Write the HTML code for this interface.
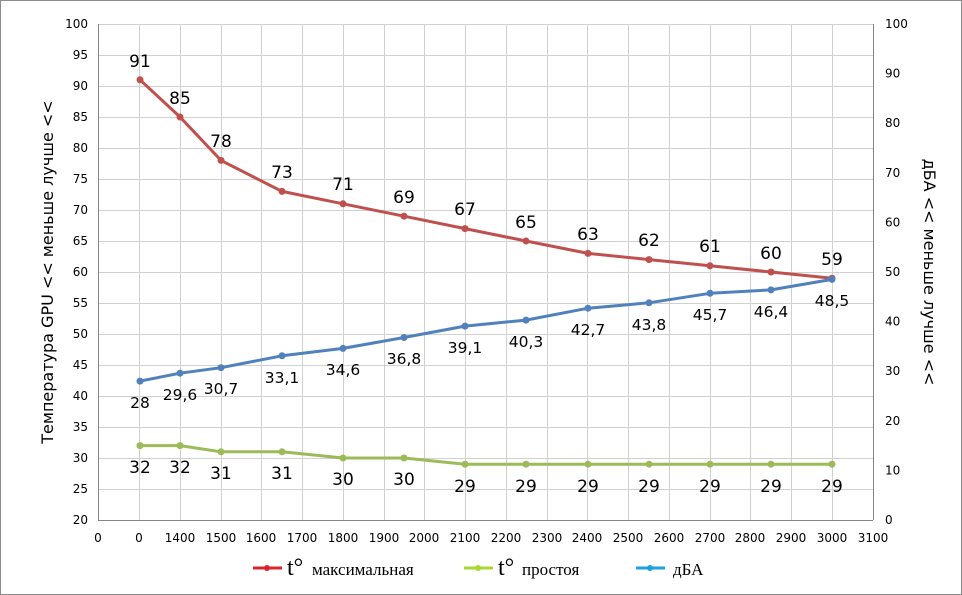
<!DOCTYPE html>
<html><head><meta charset="utf-8"><style>
html,body{margin:0;padding:0;background:#fff}
svg{display:block}
text{font-family:"DejaVu Sans","Liberation Sans",sans-serif}
text.s{font-family:"Liberation Serif",serif}
</style></head><body>
<svg width="962" height="595" viewBox="0 0 962 595" xmlns="http://www.w3.org/2000/svg">
<rect x="0.5" y="0.5" width="961" height="594" fill="#fff" stroke="#8c8c8c"/>
<g stroke="#d0d0d0" stroke-width="1">
<line x1="98" y1="24.5" x2="873" y2="24.5"/><line x1="98" y1="55.5" x2="873" y2="55.5"/><line x1="98" y1="86.5" x2="873" y2="86.5"/><line x1="98" y1="117.5" x2="873" y2="117.5"/><line x1="98" y1="148.5" x2="873" y2="148.5"/><line x1="98" y1="179.5" x2="873" y2="179.5"/><line x1="98" y1="210.5" x2="873" y2="210.5"/><line x1="98" y1="241.5" x2="873" y2="241.5"/><line x1="98" y1="272.5" x2="873" y2="272.5"/><line x1="98" y1="303.5" x2="873" y2="303.5"/><line x1="98" y1="334.5" x2="873" y2="334.5"/><line x1="98" y1="365.5" x2="873" y2="365.5"/><line x1="98" y1="396.5" x2="873" y2="396.5"/><line x1="98" y1="427.5" x2="873" y2="427.5"/><line x1="98" y1="458.5" x2="873" y2="458.5"/><line x1="98" y1="489.5" x2="873" y2="489.5"/>
<line x1="139.5" y1="24" x2="139.5" y2="520"/><line x1="180.5" y1="24" x2="180.5" y2="520"/><line x1="221.5" y1="24" x2="221.5" y2="520"/><line x1="261.5" y1="24" x2="261.5" y2="520"/><line x1="302.5" y1="24" x2="302.5" y2="520"/><line x1="343.5" y1="24" x2="343.5" y2="520"/><line x1="384.5" y1="24" x2="384.5" y2="520"/><line x1="424.5" y1="24" x2="424.5" y2="520"/><line x1="465.5" y1="24" x2="465.5" y2="520"/><line x1="506.5" y1="24" x2="506.5" y2="520"/><line x1="547.5" y1="24" x2="547.5" y2="520"/><line x1="587.5" y1="24" x2="587.5" y2="520"/><line x1="628.5" y1="24" x2="628.5" y2="520"/><line x1="669.5" y1="24" x2="669.5" y2="520"/><line x1="710.5" y1="24" x2="710.5" y2="520"/><line x1="750.5" y1="24" x2="750.5" y2="520"/><line x1="791.5" y1="24" x2="791.5" y2="520"/><line x1="832.5" y1="24" x2="832.5" y2="520"/>
</g>
<g stroke="#868686" stroke-width="1">
<line x1="98.5" y1="24" x2="98.5" y2="520"/><line x1="873.5" y1="24" x2="873.5" y2="520"/><line x1="98" y1="520.5" x2="873" y2="520.5"/>
</g>
<g font-size="12" fill="#000" text-anchor="end">
<text x="88" y="28">100</text><text x="88" y="59">95</text><text x="88" y="90">90</text><text x="88" y="121">85</text><text x="88" y="152">80</text><text x="88" y="183">75</text><text x="88" y="214">70</text><text x="88" y="245">65</text><text x="88" y="276">60</text><text x="88" y="307">55</text><text x="88" y="338">50</text><text x="88" y="369">45</text><text x="88" y="400">40</text><text x="88" y="431">35</text><text x="88" y="462">30</text><text x="88" y="493">25</text><text x="88" y="524">20</text>
</g>
<g font-size="12" fill="#000">
<text x="885" y="28">100</text><text x="885" y="77.6">90</text><text x="885" y="127.2">80</text><text x="885" y="176.8">70</text><text x="885" y="226.4">60</text><text x="885" y="276">50</text><text x="885" y="325.6">40</text><text x="885" y="375.2">30</text><text x="885" y="424.8">20</text><text x="885" y="474.4">10</text><text x="885" y="524">0</text>
</g>
<g font-size="12" fill="#000" text-anchor="middle">
<text x="98" y="542">0</text><text x="139" y="542">0</text><text x="180" y="542">1400</text><text x="221" y="542">1500</text><text x="261" y="542">1600</text><text x="302" y="542">1700</text><text x="343" y="542">1800</text><text x="384" y="542">1900</text><text x="424" y="542">2000</text><text x="465" y="542">2100</text><text x="506" y="542">2200</text><text x="547" y="542">2300</text><text x="587" y="542">2400</text><text x="628" y="542">2500</text><text x="669" y="542">2600</text><text x="710" y="542">2700</text><text x="750" y="542">2800</text><text x="791" y="542">2900</text><text x="832" y="542">3000</text><text x="873" y="542">3100</text>
</g>
<text transform="translate(53,272) rotate(-90)" font-size="16" text-anchor="middle">Температура GPU &lt;&lt; меньше лучше  &lt;&lt;</text>
<text transform="translate(924,272) rotate(90)" font-size="16" text-anchor="middle">дБА &lt;&lt;  меньше лучше &lt;&lt;</text>
<polyline fill="none" stroke="#c0504d" stroke-width="3" stroke-linejoin="round" points="140,79.8 180,117 221,160.4 282,191.4 343,203.8 404,216.2 465,228.6 526,241 588,253.4 649,259.6 710,265.8 771,272 832,278.2"/>
<polyline fill="none" stroke="#9bbb59" stroke-width="3" stroke-linejoin="round" points="140,445.6 180,445.6 221,451.8 282,451.8 343,458 404,458 465,464.2 526,464.2 588,464.2 649,464.2 710,464.2 771,464.2 832,464.2"/>
<polyline fill="none" stroke="#4f81bd" stroke-width="3" stroke-linejoin="round" points="140,381.1 180,373.2 221,367.7 282,355.8 343,348.4 404,337.5 465,326.1 526,320.1 588,308.2 649,302.8 710,293.3 771,289.9 832,279.4"/>
<g fill="#c0504d"><circle cx="140" cy="79.8" r="3.5"/><circle cx="180" cy="117" r="3.5"/><circle cx="221" cy="160.4" r="3.5"/><circle cx="282" cy="191.4" r="3.5"/><circle cx="343" cy="203.8" r="3.5"/><circle cx="404" cy="216.2" r="3.5"/><circle cx="465" cy="228.6" r="3.5"/><circle cx="526" cy="241" r="3.5"/><circle cx="588" cy="253.4" r="3.5"/><circle cx="649" cy="259.6" r="3.5"/><circle cx="710" cy="265.8" r="3.5"/><circle cx="771" cy="272" r="3.5"/><circle cx="832" cy="278.2" r="3.5"/></g>
<g fill="#9bbb59"><circle cx="140" cy="445.6" r="3.5"/><circle cx="180" cy="445.6" r="3.5"/><circle cx="221" cy="451.8" r="3.5"/><circle cx="282" cy="451.8" r="3.5"/><circle cx="343" cy="458" r="3.5"/><circle cx="404" cy="458" r="3.5"/><circle cx="465" cy="464.2" r="3.5"/><circle cx="526" cy="464.2" r="3.5"/><circle cx="588" cy="464.2" r="3.5"/><circle cx="649" cy="464.2" r="3.5"/><circle cx="710" cy="464.2" r="3.5"/><circle cx="771" cy="464.2" r="3.5"/><circle cx="832" cy="464.2" r="3.5"/></g>
<g fill="#4f81bd"><circle cx="140" cy="381.1" r="3.5"/><circle cx="180" cy="373.2" r="3.5"/><circle cx="221" cy="367.7" r="3.5"/><circle cx="282" cy="355.8" r="3.5"/><circle cx="343" cy="348.4" r="3.5"/><circle cx="404" cy="337.5" r="3.5"/><circle cx="465" cy="326.1" r="3.5"/><circle cx="526" cy="320.1" r="3.5"/><circle cx="588" cy="308.2" r="3.5"/><circle cx="649" cy="302.8" r="3.5"/><circle cx="710" cy="293.3" r="3.5"/><circle cx="771" cy="289.9" r="3.5"/><circle cx="832" cy="279.4" r="3.5"/></g>
<g font-size="17" text-anchor="middle" fill="#000">
<text x="140" y="67">91</text><text x="180" y="104">85</text><text x="221" y="147">78</text><text x="282" y="178">73</text><text x="343" y="190">71</text><text x="404" y="203">69</text><text x="465" y="215">67</text><text x="526" y="228">65</text><text x="588" y="240">63</text><text x="649" y="246">62</text><text x="710" y="252">61</text><text x="771" y="259">60</text><text x="832" y="265">59</text>
<text x="140" y="473">32</text><text x="180" y="473">32</text><text x="221" y="479">31</text><text x="282" y="479">31</text><text x="343" y="485">30</text><text x="404" y="485">30</text><text x="465" y="492">29</text><text x="526" y="492">29</text><text x="588" y="492">29</text><text x="649" y="492">29</text><text x="710" y="492">29</text><text x="771" y="492">29</text><text x="832" y="492">29</text>
</g>
<g font-size="15.5" text-anchor="middle" fill="#000">
<text x="140" y="408">28</text><text x="180" y="400">29,6</text><text x="221" y="394">30,7</text><text x="282" y="383">33,1</text><text x="343" y="375">34,6</text><text x="404" y="364">36,8</text><text x="465" y="353">39,1</text><text x="526" y="347">40,3</text><text x="588" y="335">42,7</text><text x="649" y="330">43,8</text><text x="710" y="320">45,7</text><text x="771" y="317">46,4</text><text x="832" y="306">48,5</text>
</g>
<g>
<line x1="253" y1="568" x2="282" y2="568" stroke="#d9252e" stroke-width="3"/><circle cx="267" cy="568" r="3" fill="#d9252e"/>
<text class="s" x="287" y="575" font-size="24">t°</text><text class="s" x="312" y="575" font-size="17">максимальная</text>
<line x1="464" y1="568" x2="493" y2="568" stroke="#a8d830" stroke-width="3"/><circle cx="478" cy="568" r="3" fill="#a8d830"/>
<text class="s" x="498" y="575" font-size="24">t°</text><text class="s" x="522" y="575" font-size="17">простоя</text>
<line x1="636" y1="568" x2="665" y2="568" stroke="#1fa0e0" stroke-width="3"/><circle cx="650" cy="568" r="3" fill="#1fa0e0"/>
<text class="s" x="673" y="575" font-size="17">дБА</text>
</g>
</svg>
</body></html>
